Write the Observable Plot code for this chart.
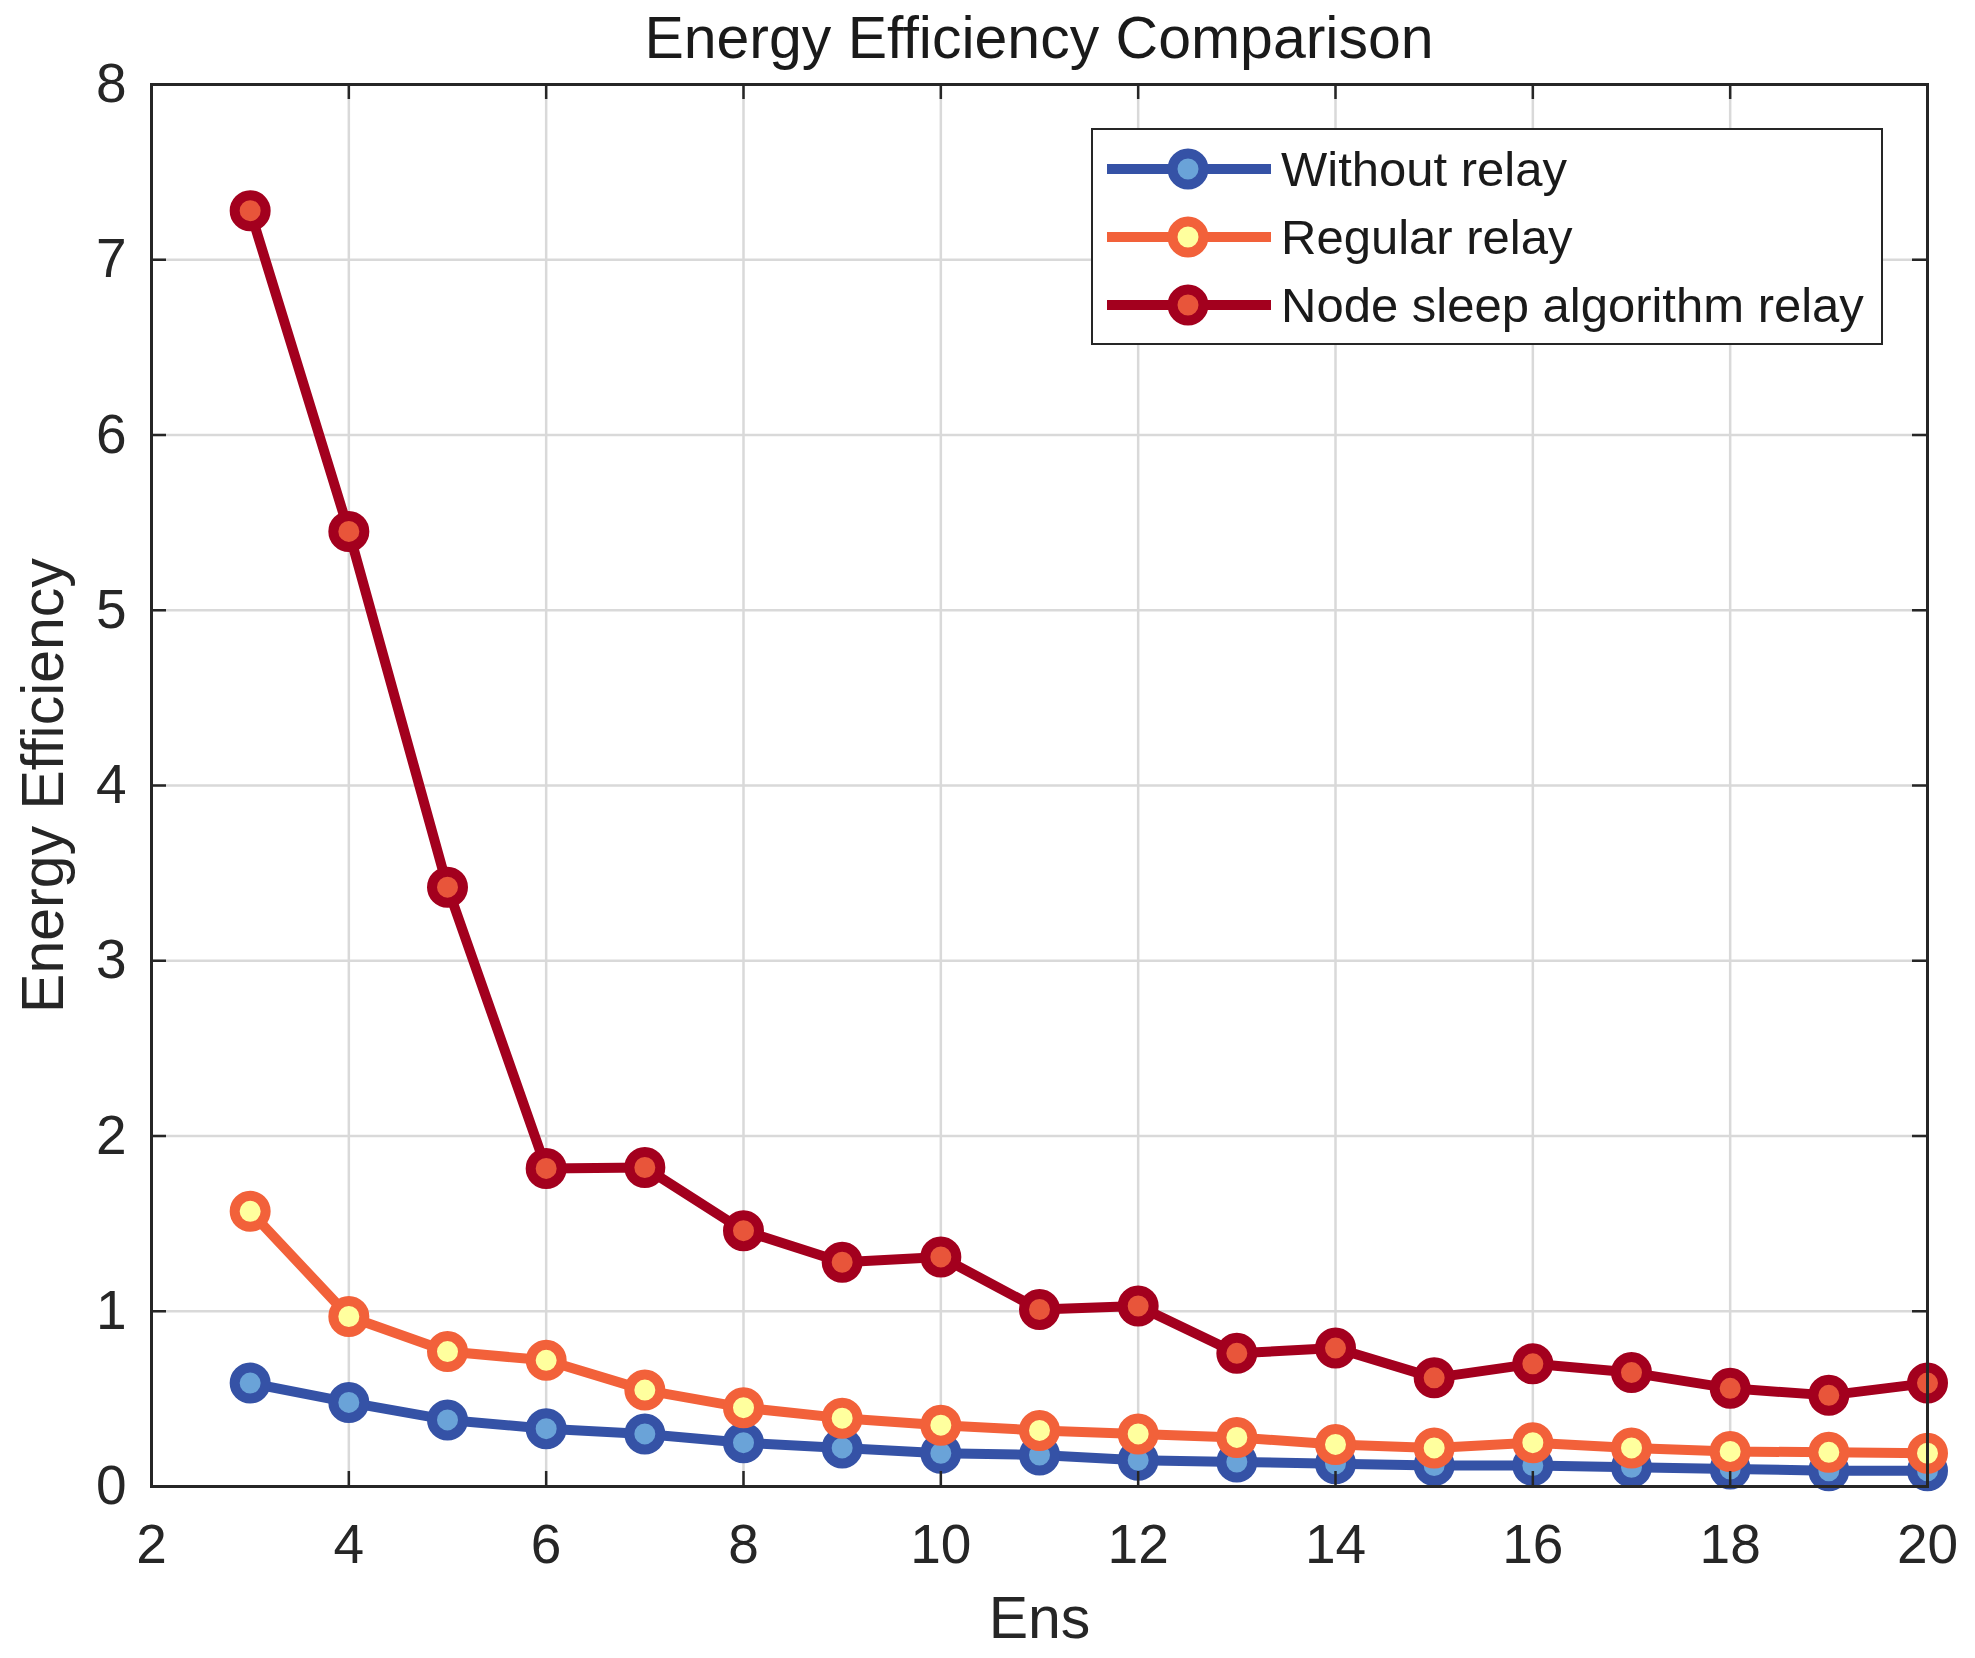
<!DOCTYPE html>
<html>
<head>
<meta charset="utf-8">
<script src="https://cdn.jsdelivr.net/npm/d3@7"></script>
<script src="https://cdn.jsdelivr.net/npm/@observablehq/plot@0.6"></script>
<style>
  body { margin: 0; background: #fff; font-family: "Liberation Sans", Arial, sans-serif; }
  #wrap { position: relative; width: 1975px; height: 1658px; overflow: hidden; }
  #title { margin-left: 151px; width: 1776px; height: 58px; padding-top: 6px; line-height: 64px;
           font-size: 59px; text-align: center; color: #1a1a1a; white-space: nowrap; }
  #legend { position: absolute; left: 1091px; top: 128px; width: 792px; height: 217px;
            box-sizing: border-box; border: 2px solid #262626; background: #fff; }
  .row { position: absolute; left: 14px; height: 68px; display: flex; align-items: center; }
  .row span { margin-left: 10px; font-size: 49px; color: #1a1a1a; white-space: nowrap; }
</style>
</head>
<body>
<div id="wrap">
  <div id="title">Energy Efficiency Comparison</div>
  <div id="chart"></div>
  <div id="legend"></div>
</div>
<script>
// values
var ens = [3, 4, 5, 6, 7, 8, 9, 10, 11, 12, 13, 14, 15, 16, 17, 18, 19, 20];
var withoutRelay = [0.59, 0.48, 0.38, 0.33, 0.30, 0.25, 0.22, 0.19, 0.18, 0.15, 0.14, 0.13, 0.12, 0.12, 0.11, 0.10, 0.09, 0.09];
var regularRelay = [1.57, 0.97, 0.77, 0.72, 0.55, 0.45, 0.39, 0.35, 0.32, 0.30, 0.28, 0.24, 0.22, 0.25, 0.22, 0.20, 0.195, 0.19];
var nodeSleepRelay = [7.28, 5.45, 3.42, 1.815, 1.82, 1.46, 1.28, 1.31, 1.01, 1.03, 0.76, 0.79, 0.62, 0.70, 0.65, 0.56, 0.52, 0.59];

var seriesNames = ["Without relay", "Regular relay", "Node sleep algorithm relay"];
var seriesValues = [withoutRelay, regularRelay, nodeSleepRelay];
var lineColors = ["#3552a6", "#f2613a", "#a3001e"];
var markerFills = ["#6aa3d8", "#ffff9e", "#e8553a"];

var xTicks = [2, 4, 6, 8, 10, 12, 14, 16, 18, 20];
var yTicks = [0, 1, 2, 3, 4, 5, 6, 7, 8];

var W = 1975, H = 1594;
var mL = 151, mR = 48, mT = 20, mB = 172;
var frameW = W - mL - mR, frameH = H - mT - mB;
var tickLen = 15;
var ink = "#262626";

var marks = [
  Plot.gridX(xTicks, {stroke: "#d9d9d9", strokeOpacity: 1, strokeWidth: 2.5}),
  Plot.gridY(yTicks, {stroke: "#d9d9d9", strokeOpacity: 1, strokeWidth: 2.5})
];

// one line + markers per series, drawn in legend order
seriesNames.forEach(function(name, i) {
  var rows = ens.map(function(x, j) { return {x: x, y: seriesValues[i][j]}; });
  marks.push(Plot.line(rows, {x: "x", y: "y", stroke: lineColors[i], strokeWidth: 10}));
  marks.push(Plot.dot(rows, {x: "x", y: "y", r: 15.5, fill: markerFills[i], stroke: lineColors[i], strokeWidth: 10}));
});

// matlab style inward ticks on all four sides
marks.push(
  Plot.ruleX(xTicks, {x: function(d) { return d; }, insetTop: frameH - tickLen, stroke: ink, strokeWidth: 2.5}),
  Plot.ruleX(xTicks, {x: function(d) { return d; }, insetBottom: frameH - tickLen, stroke: ink, strokeWidth: 2.5}),
  Plot.ruleY(yTicks, {y: function(d) { return d; }, insetRight: frameW - tickLen, stroke: ink, strokeWidth: 2.5}),
  Plot.ruleY(yTicks, {y: function(d) { return d; }, insetLeft: frameW - tickLen, stroke: ink, strokeWidth: 2.5}),
  Plot.frame({stroke: ink, strokeWidth: 3}),
  Plot.axisX(xTicks, {tickSize: 0, tickPadding: 37, fontSize: 55, fill: ink, label: null, tickFormat: "d"}),
  Plot.axisY(yTicks, {tickSize: 0, tickPadding: 25, fontSize: 55, fill: ink, label: null, tickFormat: "d"}),
  Plot.axisX([], {tickSize: 0, label: "Ens", labelAnchor: "center", labelArrow: "none", labelOffset: 151, fontSize: 59, fill: ink}),
  Plot.axisY([], {tickSize: 0, label: "Energy Efficiency", labelAnchor: "center", labelArrow: "none", labelOffset: 130, fontSize: 59, fill: ink})
);

var chart = Plot.plot({
  width: W,
  height: H,
  marginLeft: mL,
  marginRight: mR,
  marginTop: mT,
  marginBottom: mB,
  x: {domain: [2, 20]},
  y: {domain: [0, 8]},
  style: {fontFamily: "'Liberation Sans', Arial, sans-serif", background: "#fff", color: ink, overflow: "visible"},
  marks: marks
});
document.getElementById("chart").appendChild(chart);

// legend box inside the axes, like the original
var legend = document.getElementById("legend");
seriesNames.forEach(function(name, i) {
  var row = document.createElement("div");
  row.className = "row";
  row.style.top = (5 + 68 * i) + "px";
  row.innerHTML =
    '<svg width="164" height="68">' +
    '<line x1="0" x2="164" y1="34" y2="34" stroke="' + lineColors[i] + '" stroke-width="10"/>' +
    '<circle cx="81" cy="34" r="15.5" fill="' + markerFills[i] + '" stroke="' + lineColors[i] + '" stroke-width="10"/>' +
    '</svg><span>' + name + '</span>';
  legend.appendChild(row);
});
</script>
</body>
</html>
